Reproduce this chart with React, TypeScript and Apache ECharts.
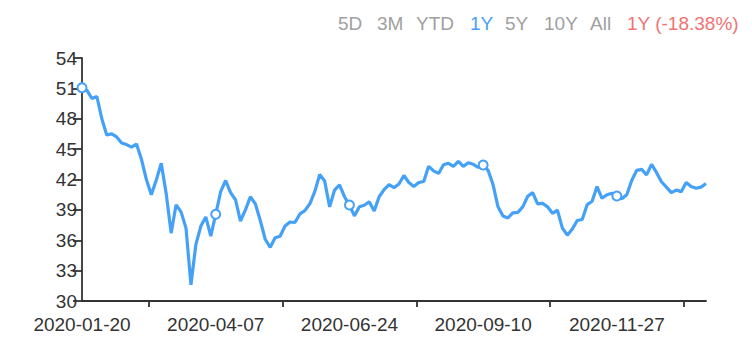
import React, { useEffect, useRef } from "react";
import * as echarts from "echarts";

// Date labels along the x axis and the point index where each one sits
const labelDates = ["2020-01-20", "2020-04-07", "2020-06-24", "2020-09-10", "2020-11-27"];
const labelIdx = [0, 27, 54, 81, 108];
const tickIdx = [13.5, 40.5, 67.5, 94.5, 121.5];

// Range buttons
const ranges = ["5D", "3M", "YTD", "1Y", "5Y", "10Y", "All"];
const activeRange = "1Y";
const changeText = "1Y (-18.38%)";

// Closing prices, one every two trading days
const prices = [
  51.07, 50.8, 50.0, 50.2, 48.0, 46.4, 46.5, 46.2, 45.6, 45.45,
  45.2, 45.5, 44.0, 42.0, 40.5, 41.95, 43.6, 40.6, 36.7, 39.5,
  38.8, 37.2, 31.6, 35.6, 37.4, 38.3, 36.4, 38.56, 40.8, 41.9,
  40.7, 40.0, 37.9, 39.0, 40.3, 39.6, 37.95, 36.1, 35.3, 36.25,
  36.4, 37.4, 37.8, 37.75, 38.6, 38.92, 39.6, 40.8, 42.5, 41.85,
  39.3, 40.96, 41.46, 40.3, 39.48, 38.4, 39.3, 39.45, 39.8, 38.9,
  40.3, 41.0, 41.5, 41.2, 41.55, 42.4, 41.7, 41.3, 41.7, 41.8,
  43.3, 42.85, 42.6, 43.45, 43.6, 43.3, 43.8, 43.3, 43.65, 43.5,
  43.2, 43.43, 42.9, 41.5, 39.3, 38.4, 38.2, 38.7, 38.75, 39.3,
  40.35, 40.7, 39.6, 39.65, 39.3, 38.66, 38.98, 37.2, 36.5, 37.1,
  37.95, 38.05, 39.5, 39.85, 41.3, 40.14, 40.5, 40.65, 40.37, 40.1,
  40.5, 41.9, 42.9, 43.0, 42.45, 43.5, 42.7, 41.78, 41.25, 40.7,
  40.95, 40.8, 41.7, 41.3, 41.13, 41.25, 41.6,
];

const FONT = "'Liberation Sans', Arial, Helvetica, sans-serif";
const BLUE = "#45a0f7";

export default function App() {
  const ref = useRef<HTMLDivElement>(null);
  useEffect(() => {
    if (!ref.current) return;
    const chart = echarts.init(ref.current, undefined, { renderer: "svg" });
    const btnX = [338, 377, 416, 470, 505, 544, 590];
    const graphics: any[] = ranges.map((r, i) => ({
      type: "text",
      x: btnX[i],
      y: 23,
      style: {
        text: r,
        fontSize: 19,
        fontFamily: FONT,
        fill: r === activeRange ? BLUE : "#a0a0a0",
        verticalAlign: "middle",
      },
    }));
    graphics.push({
      type: "text",
      x: 627,
      y: 23,
      style: {
        text: changeText,
        fontSize: 19,
        fontFamily: FONT,
        fill: "#f07373",
        verticalAlign: "middle",
      },
    });
    chart.setOption({
      animation: false,
      grid: { left: 82, right: 46, top: 58, bottom: 45 },
      xAxis: {
        type: "value",
        min: 0,
        max: prices.length - 1,
        splitLine: { show: false },
        axisLine: { show: true, lineStyle: { color: "#333", width: 1.8 } },
        axisTick: { show: true, length: 6, customValues: tickIdx, lineStyle: { color: "#333", width: 1.8 } },
        axisLabel: {
          customValues: labelIdx,
          formatter: (v: number) => {
            const k = labelIdx.indexOf(Math.round(v));
            return k >= 0 ? labelDates[k] : "";
          },
          fontSize: 19,
          fontFamily: FONT,
          color: "#333",
          margin: 14,
        },
      },
      yAxis: {
        type: "value",
        min: 30,
        max: 54,
        interval: 3,
        splitLine: { show: false },
        axisLine: { show: true, lineStyle: { color: "#333", width: 1.8 } },
        axisTick: { show: true, length: 9, lineStyle: { color: "#333", width: 1.8 } },
        axisLabel: { fontSize: 19, fontFamily: FONT, color: "#333", margin: 5 },
      },
      series: [
        {
          type: "line",
          data: prices.map((v, i) => [i, v]),
          symbol: "none",
          lineStyle: { color: BLUE, width: 3.2 },
          z: 2,
        },
        {
          type: "scatter",
          data: labelIdx.map((i) => [i, prices[i]]),
          symbol: "circle",
          symbolSize: 9,
          itemStyle: { color: "#ffffff", borderColor: BLUE, borderWidth: 2, opacity: 1 },
          z: 3,
        },
      ],
      graphic: graphics,
    });
    return () => chart.dispose();
  }, []);
  return (
    <div
      ref={ref}
      style={{ position: "fixed", left: 0, top: 0, width: 752, height: 346, background: "#fff" }}
    />
  );
}
